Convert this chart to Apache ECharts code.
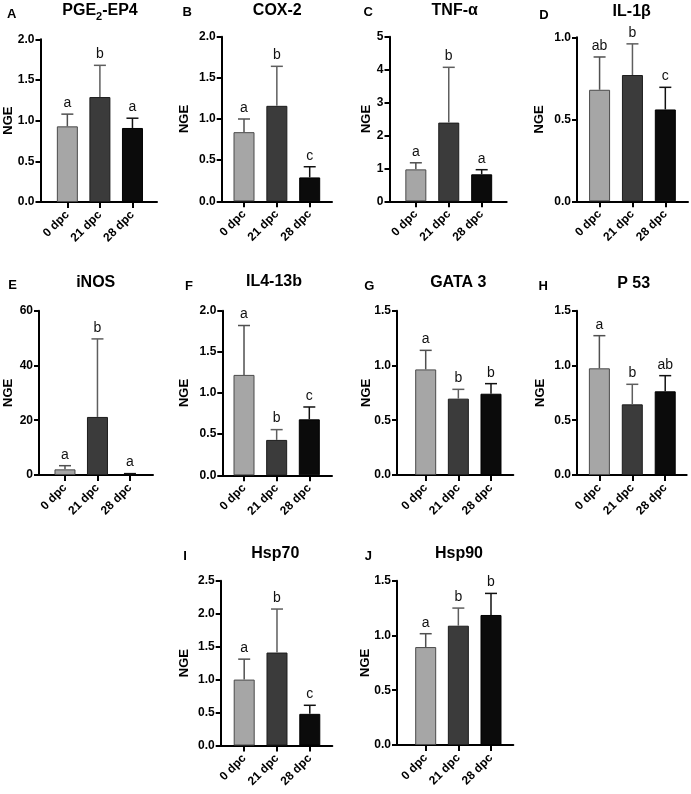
<!DOCTYPE html>
<html><head><meta charset="utf-8">
<script src="https://cdn.jsdelivr.net/npm/echarts@6/dist/echarts.min.js"></script>
<style>html,body{margin:0;padding:0;background:#fff}#c{width:691px;height:794px}</style>
</head><body><div id="c"></div>
<script>
// ---------- data ----------
const categories = ['0 dpc', '21 dpc', '28 dpc'];
const genes = ['PGE2-EP4', 'COX-2', 'TNF-α', 'IL-1β', 'iNOS', 'IL4-13b', 'GATA 3', 'P 53', 'Hsp70', 'Hsp90'];
const panelTags = ['A', 'B', 'C', 'D', 'E', 'F', 'G', 'H', 'I', 'J'];

const meanPGE2EP4 = [0.93, 1.29, 0.91];   const sdPGE2EP4 = [0.15, 0.39, 0.12];   const sigPGE2EP4 = ['a', 'b', 'a'];
const meanCOX2    = [0.84, 1.16, 0.29];   const sdCOX2    = [0.16, 0.48, 0.13];   const sigCOX2    = ['a', 'b', 'c'];
const meanTNFa    = [0.97, 2.39, 0.82];   const sdTNFa    = [0.20, 1.68, 0.14];   const sigTNFa    = ['a', 'b', 'a'];
const meanIL1b    = [0.68, 0.77, 0.56];   const sdIL1b    = [0.20, 0.19, 0.135];  const sigIL1b    = ['ab', 'b', 'c'];
const meanINOS    = [2.06, 21.2, 0.3];    const sdINOS    = [1.34, 28.5, 0.2];    const sigINOS    = ['a', 'b', 'a'];
const meanIL413b  = [1.22, 0.43, 0.68];   const sdIL413b  = [0.60, 0.125, 0.15];  const sigIL413b  = ['a', 'b', 'c'];
const meanGATA3   = [0.964, 0.697, 0.742]; const sdGATA3  = [0.174, 0.085, 0.092]; const sigGATA3  = ['a', 'b', 'b'];
const meanP53     = [0.974, 0.645, 0.764]; const sdP53    = [0.298, 0.183, 0.143]; const sigP53    = ['a', 'b', 'ab'];
const meanHsp70   = [1.0, 1.41, 0.48];    const sdHsp70   = [0.31, 0.66, 0.13];   const sigHsp70   = ['a', 'b', 'c'];
const meanHsp90   = [0.894, 1.089, 1.187]; const sdHsp90  = [0.122, 0.161, 0.197]; const sigHsp90  = ['a', 'b', 'b'];

const yMax      = [2, 2, 5, 1, 60, 2, 1.5, 1.5, 2.5, 1.5];
const yStep     = [0.5, 0.5, 1, 0.5, 20, 0.5, 0.5, 0.5, 0.5, 0.5];
const yDecimals = [1, 1, 0, 1, 0, 1, 1, 1, 1, 1];

const means = [meanPGE2EP4, meanCOX2, meanTNFa, meanIL1b, meanINOS, meanIL413b, meanGATA3, meanP53, meanHsp70, meanHsp90];
const sds   = [sdPGE2EP4, sdCOX2, sdTNFa, sdIL1b, sdINOS, sdIL413b, sdGATA3, sdP53, sdHsp70, sdHsp90];
const sigs  = [sigPGE2EP4, sigCOX2, sigTNFa, sigIL1b, sigINOS, sigIL413b, sigGATA3, sigP53, sigHsp70, sigHsp90];

// ---------- layout / style ----------
const layout = [
  {left: 40.5,  top: 39.3,  w: 116.5, h: 162.7, xmin: -0.825, xmax: 2.754, tx: 100,   ty: 11,    lx: 11.7,  ly: 14,    nx: 8.3},
  {left: 221.7, top: 36.7,  w: 110.3, h: 164.6, xmin: -0.679, xmax: 2.679, tx: 277.3, ty: 10.5,  lx: 187.3, ly: 12.7,  nx: 184},
  {left: 389.5, top: 36.7,  w: 117.2, h: 164.6, xmin: -0.80,  xmax: 2.76,  tx: 454.7, ty: 10.5,  lx: 368.3, ly: 12.7,  nx: 366},
  {left: 577,   top: 37.3,  w: 111,   h: 164,   xmin: -0.687, xmax: 2.69,  tx: 631.7, ty: 11.5,  lx: 544,   ly: 15,    nx: 539.3},
  {left: 39,    top: 310.7, w: 114,   h: 164.3, xmin: -0.8,   xmax: 2.71,  tx: 95.7,  ty: 282.7, lx: 12.7,  ly: 285,   nx: 8.3},
  {left: 222.3, top: 310.7, w: 109.7, h: 164.6, xmin: -0.665, xmax: 2.695, tx: 274,   ty: 281.5, lx: 189,   ly: 286.7, nx: 184},
  {left: 397,   top: 310.7, w: 116.3, h: 164.3, xmin: -0.879, xmax: 2.683, tx: 458.3, ty: 282.7, lx: 369.3, ly: 286,   nx: 366},
  {left: 577,   top: 310.7, w: 109.7, h: 164.3, xmin: -0.68,  xmax: 2.653, tx: 633.7, ty: 283.3, lx: 543.3, ly: 286,   nx: 540},
  {left: 220.7, top: 580.7, w: 111.6, h: 164.8, xmin: -0.716, xmax: 2.686, tx: 275.3, ty: 554,   lx: 185,   ly: 556.7, nx: 184},
  {left: 397,   top: 580.7, w: 116.3, h: 164.3, xmin: -0.879, xmax: 2.683, tx: 459,   ty: 554,   lx: 368.3, ly: 556.7, nx: 365}
];
const FONT = '"Liberation Sans", Arial, Helvetica, sans-serif';
const barFill   = ['#a6a6a6', '#3b3b3b', '#0b0b0b'];
const barBorder = ['#4a4a4a', '#1c1c1c', '#000000'];
const errColor  = ['#505050', '#5e5e5e', '#111111'];

const grids = [], xAxes = [], yAxes = [], series = [], graphics = [];

layout.forEach((L, i) => {
  grids.push({left: L.left, top: L.top, width: L.w, height: L.h});
  xAxes.push({
    type: 'value', gridIndex: i, min: L.xmin, max: L.xmax,
    splitLine: {show: false},
    axisLine: {show: true, onZero: false, lineStyle: {color: '#000', width: 2}},
    axisTick: {show: true, customValues: [0, 1, 2], length: 6, lineStyle: {color: '#000', width: 2}},
    axisLabel: {
      customValues: [0, 1, 2], rotate: 45, margin: 11,
      fontFamily: FONT, fontSize: 12, fontWeight: 'bold', color: '#000',
      formatter: v => categories[Math.round(v)]
    }
  });
  yAxes.push({
    type: 'value', gridIndex: i, min: 0, max: yMax[i], interval: yStep[i],
    splitLine: {show: false},
    axisLine: {show: true, onZero: false, lineStyle: {color: '#000', width: 2}},
    axisTick: {show: true, length: 5, lineStyle: {color: '#000', width: 2}},
    axisLabel: {
      margin: 6, fontFamily: FONT, fontSize: 12, fontWeight: 'bold', color: '#000',
      formatter: v => v.toFixed(yDecimals[i])
    }
  });
  series.push({
    type: 'bar', xAxisIndex: i, yAxisIndex: i, barWidth: 21,
    data: means[i].map((m, k) => ({
      value: [k, m],
      itemStyle: {color: barFill[k], borderColor: barBorder[k], borderWidth: 1}
    })),
    z: 2
  });
  series.push({
    type: 'custom', xAxisIndex: i, yAxisIndex: i, clip: false, z: 3,
    encode: {x: 0, y: [1, 2]},
    data: means[i].map((m, k) => [k, m, m + sds[i][k]]),
    renderItem: (params, api) => {
      const k = params.dataIndex;
      const p0 = api.coord([api.value(0), api.value(1)]);
      const p1 = api.coord([api.value(0), api.value(2)]);
      const col = errColor[k];
      return {
        type: 'group',
        children: [
          {type: 'line', shape: {x1: p0[0], y1: p0[1], x2: p1[0], y2: p1[1]}, style: {stroke: col, lineWidth: 1.5}},
          {type: 'line', shape: {x1: p1[0] - 6, y1: p1[1], x2: p1[0] + 6, y2: p1[1]}, style: {stroke: col, lineWidth: 1.5}},
          {type: 'text', style: {text: sigs[i][k], x: p1[0], y: p1[1] - 11, align: 'center', verticalAlign: 'middle',
            font: '14px ' + FONT, fill: '#111'}}
        ]
      };
    }
  });
  // panel title
  const titleText = genes[i] === 'PGE2-EP4' ? '{t|PGE}{s|2}{t|-EP4}' : '{t|' + genes[i] + '}';
  graphics.push({
    type: 'text', x: L.tx, y: L.ty,
    style: {
      text: titleText, align: 'center', verticalAlign: 'middle',
      rich: {
        t: {fontFamily: FONT, fontSize: 16, fontWeight: 'bold', fill: '#000', lineHeight: 22},
        s: {fontFamily: FONT, fontSize: 11, fontWeight: 'bold', fill: '#000', lineHeight: 22, verticalAlign: 'bottom', padding: [0, 0, 0, 0]}
      }
    }
  });
  // panel tag
  graphics.push({
    type: 'text', x: L.lx, y: L.ly,
    style: {text: panelTags[i], align: 'center', verticalAlign: 'middle', font: 'bold 13px ' + FONT, fill: '#000'}
  });
  // y-axis name
  graphics.push({
    type: 'text', x: L.nx, y: L.top + L.h / 2, rotation: Math.PI / 2,
    style: {text: 'NGE', align: 'center', verticalAlign: 'middle', font: 'bold 13px ' + FONT, fill: '#000'}
  });
});

const chart = echarts.init(document.getElementById('c'), null, {renderer: 'canvas'});
chart.setOption({
  animation: false,
  backgroundColor: '#fff',
  grid: grids, xAxis: xAxes, yAxis: yAxes, series: series,
  graphic: {elements: graphics}
});
</script>
</body></html>
